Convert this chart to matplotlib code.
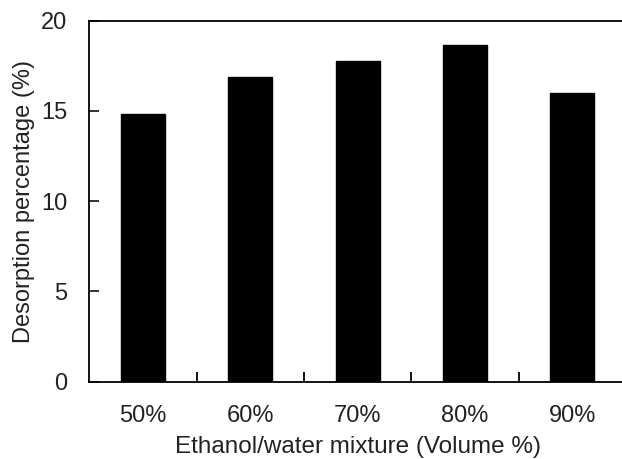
import matplotlib
matplotlib.use("Agg")
import matplotlib.pyplot as plt
import numpy as np

categories = ["50%", "60%", "70%", "80%", "90%"]
values = [14.85, 16.9, 17.75, 18.65, 16.0]

plt.rcParams['font.family'] = ['Liberation Sans', 'DejaVu Sans']

fig = plt.figure(figsize=(6.22, 4.59), dpi=100)
ax = fig.add_axes([0.1436, 0.1684, 0.8628, 0.7865])

x = np.arange(len(categories))
ax.bar(x, values, width=0.41, color='black', edgecolor='black')

ax.set_xlim(-0.5, len(categories) - 0.5)
ax.set_ylim(0, 20)
ax.set_yticks([0, 5, 10, 15, 20])
ax.set_xticks(x)
ax.set_xticklabels(categories)
ax.set_xticks(np.arange(0.5, len(categories) - 0.5, 1), minor=True)

ax.tick_params(axis='x', which='major', length=0, pad=16.5, labelsize=17, colors='#222222')
ax.tick_params(axis='x', which='minor', direction='in', length=7, width=1.3, color='black')
ax.tick_params(axis='y', which='major', direction='in', length=7, width=1.3, pad=16, labelsize=17, colors='#222222')

for s in ax.spines.values():
    s.set_linewidth(1.3)
    s.set_color('black')

ax.set_xlabel("Ethanol/water mixture (Volume %)", fontsize=17.5, color='#222222', labelpad=7)
ax.set_ylabel("Desorption percentage (%)", fontsize=17, color='#222222', labelpad=4)

fig.savefig("out.png", dpi=100)
